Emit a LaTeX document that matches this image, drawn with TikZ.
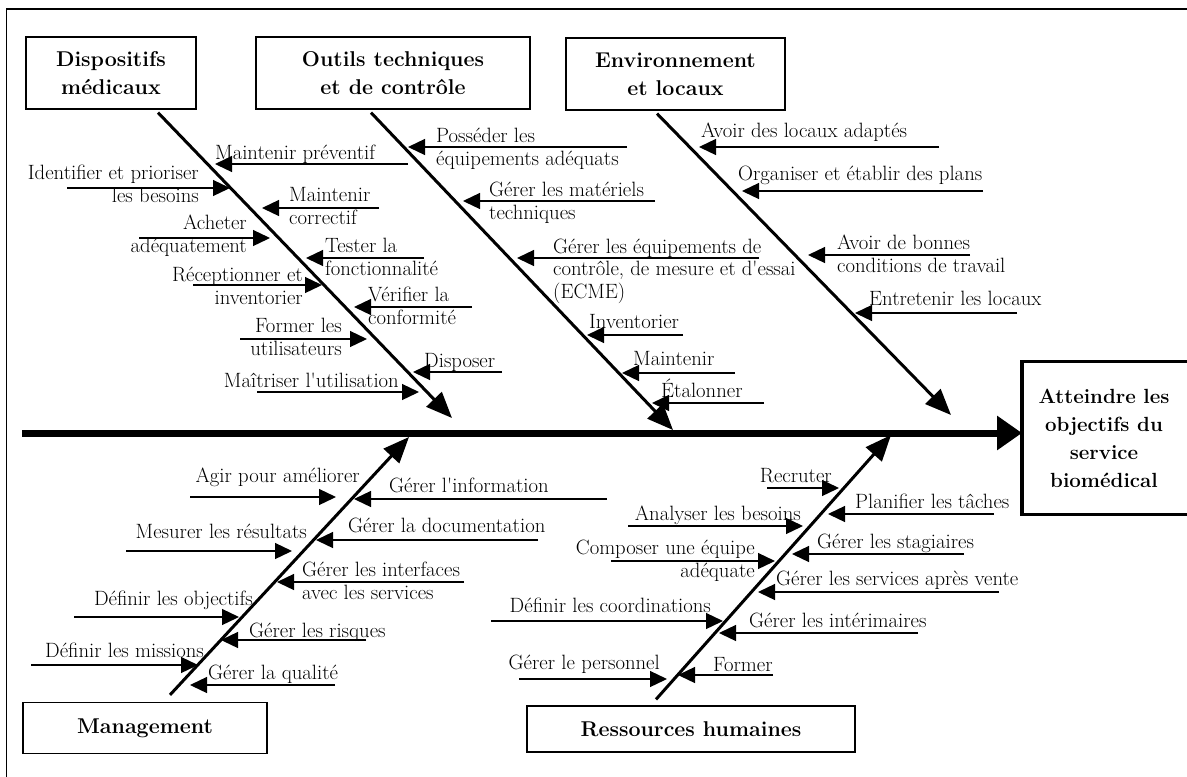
\documentclass[tikz,border=0pt]{standalone}
\usepackage{amsmath}
\usetikzlibrary{arrows.meta}

\begin{document}
\begin{tikzpicture}[x=1pt,y=-1pt,>={Triangle[length=17pt,width=16pt]},
        every node/.style={inner sep=0pt},
        txt/.style={font=\fontsize{20.7}{22.5}\selectfont},
        rt/.style={txt,anchor=base west,align=left},
        lt/.style={txt,anchor=base east,align=right},
        cat/.style={draw,line width=1.2pt,align=center,font=\bfseries\fontsize{21.4}{28}\selectfont},
        cause/.style={line width=1.3pt,->},
        bone/.style={line width=3pt,-{Triangle[length=26pt,width=21pt]}},
        spine/.style={line width=7pt,-{Triangle[length=25pt,width=33pt]}}]
        \useasboundingbox (0,0) rectangle (1187,777);
        \draw[line width=1.2pt] (6.5,790) -- (6.5,9) -- (1195,9);
        \node[cat,minimum width=170pt,minimum height=72pt] (dm) at (111,73) {Dispositifs\\médicaux};
        \node[cat,minimum width=274pt,minimum height=72pt] (otc) at (393,73) {Outils techniques\\et de contrôle};
        \node[cat,minimum width=219pt,minimum height=72pt] (env) at (675.5,74) {Environnement\\et locaux};
        \node[cat,minimum width=244pt,minimum height=51pt] (mgt) at (145,728) {Management};
        \node[cat,minimum width=328pt,minimum height=46pt] (rh) at (691,729) {Ressources humaines};
        \node[cat,draw=none,font=\bfseries\fontsize{20.5}{28}\selectfont,minimum height=156pt] (goal) at (1104,438) {Atteindre les\\objectifs du\\service\\biomédical};
        \draw[line width=3.5pt] ([shift={(100,2)}]goal.north) -| ([shift={(-82,-2)}]goal.south) -- ++(200,0);
        \coordinate (sp) at (22,433);
        \coordinate (gw) at ([xshift=-82pt]goal.center);
        \coordinate (t1) at (452,418);
        \coordinate (t2) at (673,430);
        \coordinate (t3) at (951,415);
        \coordinate (t4) at (409,437);
        \coordinate (t5) at (891,435);
        \draw[spine] (sp) -- (sp -| gw);
        \draw[bone] ([shift={(47,3)}]dm.south) -- (t1);
        \draw[bone] ([shift={(-22,3)}]otc.south) -- (t2);
        \draw[bone] ([shift={(-18.5,3)}]env.south) -- (t3);
        \draw[bone] ([shift={(25,-7)}]mgt.north) -- (t4);
        \draw[bone] ([shift={(-35,-6)}]rh.north) -- (t5);
        \foreach \nm/\sty/\tx/\ty/\lbl/\xs/\xe/\ya in {
                mp/rt/215/159/{Maintenir préventif}/408/215/164,
                idb/lt/199/202/{Identifier et prioriser\\les besoins}/67/230/188,
                mc/rt/289/224/{Maintenir\\correctif}/379/262/208,
                ach/lt/247/252/{Acheter\\adéquatement}/139/270/238,
                tf/rt/325/275/{Tester la\\fonctionnalité}/424/306/258,
                ri/lt/303/304/{Réceptionner et\\inventorier}/193/322/285,
                vc/rt/368/324/{Vérifier la\\conformité}/472/354/307,
                fu/lt/342/355/{Former les\\utilisateurs}/240/367/339,
                dis/rt/424/367/{Disposer}/502/413/372,
                mu/lt/399/387/{Maîtriser l\textquotesingle{}utilisation}/257/419/392,
                peq/rt/436/165/{Posséder les\\équipements adéquats}/627/408/147,
                gmt/rt/489/219/{Gérer les matériels\\techniques}/655/463/201,
                gec/rt/553/298/{Gérer les équipements de\\contrôle, de mesure et d\textquotesingle{}essai\\(ECME)}/759/517/258,
                inv/rt/589/328/{Inventorier}/683/587/335,
                mnt/rt/633/365/{Maintenir}/735/622/373,
                eta/rt/661/397/{Étalonner}/764/652/403,
                adl/rt/701/137/{Avoir des locaux adaptés}/939/699/147,
                oep/rt/738/180/{Organiser et établir des plans}/983/742/191,
                abc/rt/837/272/{Avoir de bonnes\\conditions de travail}/970/808/255,
                etl/rt/869/305/{Entretenir les locaux}/1017/855/313,
                apa/lt/360/482/{Agir pour améliorer}/190/336/497,
                gin/rt/389/492/{Gérer l\textquotesingle{}information}/607/354/499,
                mlr/lt/307/538/{Mesurer les résultats}/126/292/551,
                gdo/rt/348/532/{Gérer la documentation}/538/316/540,
                gif/rt/302/599/{Gérer les interfaces\\avec les services}/464/277/582,
                dob/lt/253/605/{Définir les objectifs}/74/239/617,
                gri/rt/249/637/{Gérer les risques}/366/221/640,
                dmi/lt/204/657/{Définir les missions}/31/198/665,
                gqu/rt/208/679/{Gérer la qualité}/335/190/685,
                rec/lt/832/482/{Recruter}/767/839/488,
                plt/rt/855/508/{Planifier les tâches}/994/828/514,
                anb/lt/801/520/{Analyser les besoins}/628/803/526,
                gst/rt/817/548/{Gérer les stagiaires}/964/792/554,
                cue/lt/755/577/{Composer une équipe\\adéquate}/611/775/561,
                gsa/rt/776/585/{Gérer les services après vente}/999/758/592,
                dco/lt/711/612/{Définir les coordinations}/491/723/621,
                gint/rt/749/627/{Gérer les intérimaires}/918/719/633,
                gpe/lt/660/669/{Gérer le personnel}/519/667/679,
                frm/rt/713/671/{Former}/773/678/675}
        {
                \node[\sty] (\nm) at (\tx,\ty) {\lbl};
                \coordinate (\nm-s) at (\xs,\ya);
                \coordinate (\nm-e) at (\xe,\ya);
                \draw[cause] (\nm-s) -- (\nm-e);
        }
\end{tikzpicture}
\end{document}
